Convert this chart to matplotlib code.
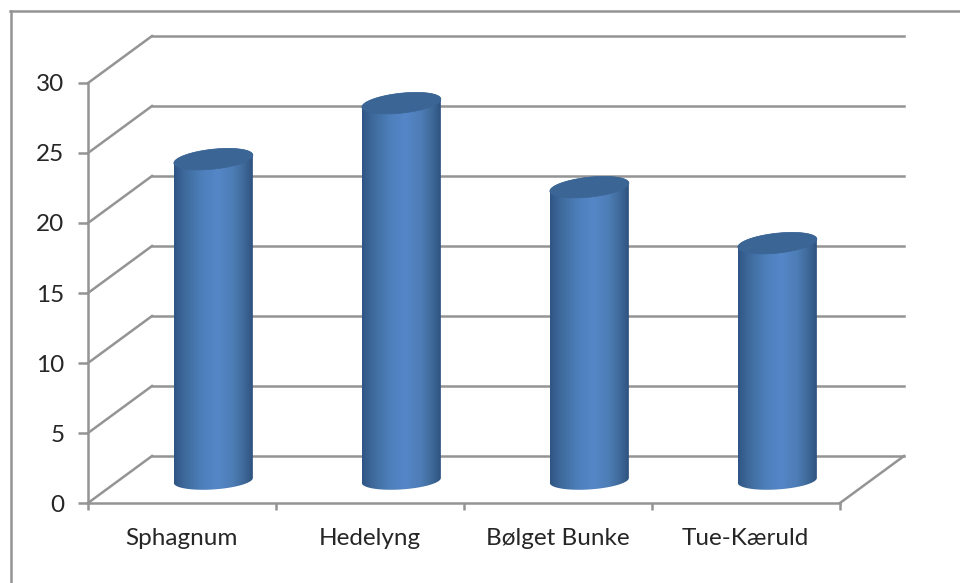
import matplotlib
matplotlib.use("Agg")
import matplotlib.pyplot as plt
import numpy as np
from matplotlib.colors import LinearSegmentedColormap
from matplotlib.lines import Line2D
from matplotlib.patches import Polygon

categories = ["Sphagnum", "Hedelyng", "Bølget Bunke", "Tue-Kæruld"]
values = [23, 27, 21, 17]
y_ticks = [0, 5, 10, 15, 20, 25, 30]

grid_col = "#949494"
text_col = "#262626"

plt.rcParams["font.family"] = ["Lato", "DejaVu Sans"]

W, H = 960, 583
fig = plt.figure(figsize=(W / 100, H / 100), dpi=100)
ax = fig.add_axes([88 / W, (H - 503) / H, 752 / W, 420 / H])
ax.set_xlim(0, len(categories))
ax.set_ylim(0, 30)

# pixels per data unit, the 3d look is just a shift in pixels
px_x = 752 / len(categories)
px_y = 420 / 30
depth_x = 64 / px_x
depth_y = 47 / px_y

# walls
for v in y_ticks:
    ax.plot([0, depth_x], [v, v + depth_y], color=grid_col, lw=1.8, clip_on=False, zorder=1)
    ax.plot([depth_x, len(categories) + depth_x], [v + depth_y, v + depth_y],
            color=grid_col, lw=1.8, clip_on=False, zorder=1)
ax.plot([len(categories), len(categories) + depth_x], [0, depth_y],
        color=grid_col, lw=1.8, clip_on=False, zorder=1)

# cylinders
shade = LinearSegmentedColormap.from_list(
    "cyl", [(0, "#2f5585"), (0.12, "#3d6899"), (0.35, "#4d7fbb"), (0.55, "#5587c8"),
            (0.75, "#4d7db5"), (0.9, "#3d6796"), (1, "#2e5280")])
grad = np.linspace(0, 1, 256).reshape(1, -1)
half_w = 39.5 / px_x
t = np.linspace(0, 2 * np.pi, 121)


def ring(cx, cy, semi_b, shear):
    xs = cx + half_w * np.cos(t)
    ys = cy + (semi_b * np.sin(t) + shear * np.cos(t)) / px_y
    return xs, ys


for i, v in enumerate(values):
    cx = i + 0.5 + 0.49 * depth_x
    base = 0.48 * depth_y
    top_x, top_y = ring(cx, base + v - 0.05, 10, 4)
    bot_x, bot_y = ring(cx, base, 9, 2.5)
    # upper half of the top ring, lower half of the bottom ring
    outline = np.column_stack([
        np.r_[top_x[:61], bot_x[60:]],
        np.r_[top_y[:61], bot_y[60:]],
    ])
    body = Polygon(outline, closed=True, fc="none", ec="none", transform=ax.transData)
    ax.add_patch(body)
    im = ax.imshow(grad, extent=[cx - half_w, cx + half_w, base - 2, base + v + 2],
                   cmap=shade, aspect="auto", zorder=3, interpolation="bilinear")
    im.set_clip_path(body)
    ax.fill(top_x, top_y, color="#3b6594", lw=0.5, zorder=4)

ax.set_xlim(0, len(categories))
ax.set_ylim(0, 30)

for side in ["top", "right"]:
    ax.spines[side].set_visible(False)
for side in ["left", "bottom"]:
    ax.spines[side].set_color(grid_col)
    ax.spines[side].set_linewidth(1.8)
    ax.spines[side].set_zorder(2)
ax.patch.set_alpha(0)

ax.set_yticks(y_ticks)
ax.tick_params(axis="y", length=7, width=1.8, color=grid_col, labelcolor=text_col,
               labelsize=17.5, pad=10)
ax.set_xticks(range(len(categories) + 1))
ax.set_xticklabels([])
ax.tick_params(axis="x", which="major", length=5, width=1.8, color=grid_col)
ax.set_xticks(np.arange(len(categories)) + 0.497, minor=True)
ax.set_xticklabels(categories, minor=True)
ax.tick_params(axis="x", which="minor", length=0, labelcolor=text_col, labelsize=17.5, pad=18)

# outer frame, only left and top are visible in the crop
fig.add_artist(Line2D([10.5 / W, 10.5 / W], [0, 1 - 11 / H], color=grid_col, lw=1.8))
fig.add_artist(Line2D([10 / W, 1], [1 - 11 / H, 1 - 11 / H], color=grid_col, lw=1.8))

fig.savefig("out.png", dpi=100)
